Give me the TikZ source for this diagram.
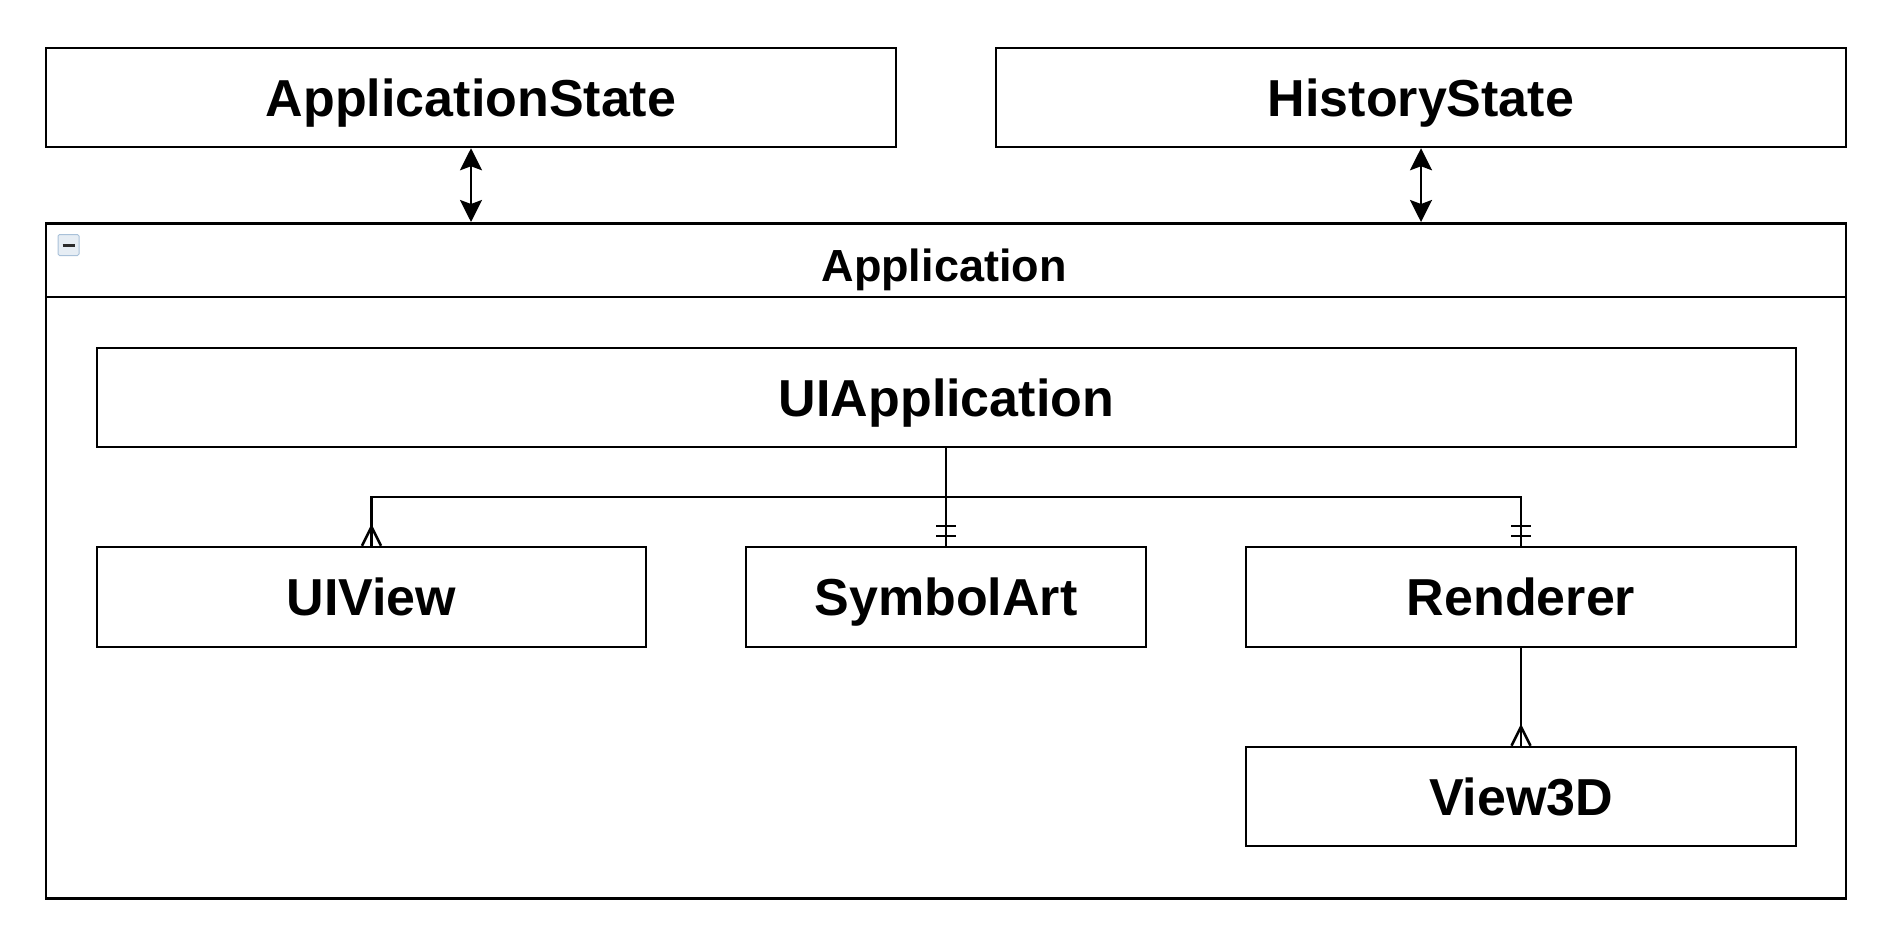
\documentclass[tikz,border=0pt]{standalone}
\usepackage{fontspec}
\setmainfont{Liberation Sans}
\usetikzlibrary{arrows.meta}
\definecolor{iconborder}{HTML}{A9C1D9}
\definecolor{iconfill}{HTML}{E6EDF4}
\definecolor{iconminus}{HTML}{2B2B2B}
\begin{document}
\begin{tikzpicture}[x=1pt,y=-1pt,line width=2.5pt,
  box/.style={draw, rectangle, inner sep=0pt, text height=37.2pt, text depth=0pt, font=\fontsize{52}{60}\selectfont\bfseries},
  bigbox/.style={box, minimum width=850pt, minimum height=99pt},
  headtext/.style={inner sep=0pt, text height=32.2pt, text depth=0pt, font=\fontsize{45}{52}\selectfont\bfseries},
  biarrow/.style={{Stealth[length=22pt,width=22pt,inset=4pt]}-{Stealth[length=22pt,width=22pt,inset=4pt]}},
  conn/.style={draw, line width=2.5pt}
]
\useasboundingbox (0,0) rectangle (1893,942);
% top boxes
\node[bigbox] (appstate) at (471,97.5) {ApplicationState};
\node[bigbox] (histstate) at (1421,97.5) {HistoryState};
% container
\node[draw, rectangle, inner sep=0pt, minimum width=1800pt, minimum height=675pt, anchor=north] (app) at (946,222) {};
\coordinate (headline) at (946,297);
\draw (app.west |- headline) -- (app.east |- headline);
\node[headtext] (apptitle) at (944,265) {Application};
% collapse icon
\node[draw=iconborder, fill=iconfill, line width=1pt, rounded corners=1.5pt, minimum size=21pt, inner sep=0pt] (collapse) at (68.5,245) {};
\draw[iconminus, line width=3pt] ([xshift=-6pt]collapse.center) -- ([xshift=6pt]collapse.center);
% inner boxes
\node[box, minimum width=1699pt, minimum height=99pt] (uiapp) at (946.5,397.5) {UIApplication};
\node[box, minimum width=549pt, minimum height=100pt] (uiview) at (371.5,597) {UIView};
\node[box, minimum width=400pt, minimum height=100pt] (symart) at (946,597) {SymbolArt};
\node[box, minimum width=550pt, minimum height=100pt] (renderer) at (1521,597) {Renderer};
\node[box, minimum width=550pt, minimum height=99pt] (view3d) at (1521,796.5) {View3D};
% arrows top
\draw[biarrow] (appstate.south) -- (appstate.south |- app.north);
\draw[biarrow] (histstate.south) -- (histstate.south |- app.north);
% connectors
\coordinate (j) at (946,497);
\draw[conn] (uiapp.south -| symart.north) -- (symart.north);
\draw[conn] (uiview.north) -- (uiview.north |- j) -- (renderer.north |- j) -- (renderer.north);
\draw[conn] (renderer.south) -- (view3d.north);
% crow's feet (many)
\draw[conn] ([xshift=-9.5pt]uiview.north) -- ([yshift=19pt]uiview.north) -- ([xshift=9.5pt]uiview.north);
\draw[conn] ([xshift=-9.5pt]view3d.north) -- ([yshift=19pt]view3d.north) -- ([xshift=9.5pt]view3d.north);
% double bars (exactly one)
\draw[conn] ([xshift=-10pt,yshift=10pt]symart.north) -- ([xshift=10pt,yshift=10pt]symart.north);
\draw[conn] ([xshift=-10pt,yshift=20pt]symart.north) -- ([xshift=10pt,yshift=20pt]symart.north);
\draw[conn] ([xshift=-10pt,yshift=10pt]renderer.north) -- ([xshift=10pt,yshift=10pt]renderer.north);
\draw[conn] ([xshift=-10pt,yshift=20pt]renderer.north) -- ([xshift=10pt,yshift=20pt]renderer.north);
\end{tikzpicture}
\end{document}
